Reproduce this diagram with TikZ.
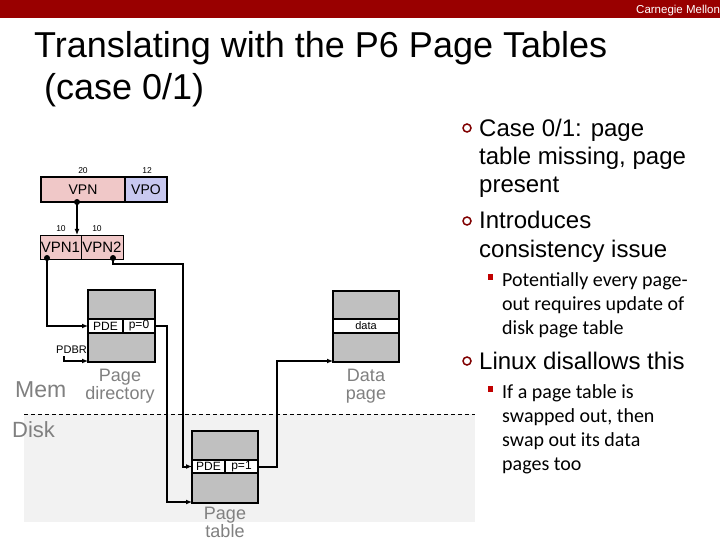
\documentclass[tikz,border=0pt]{standalone}
\usepackage{fontspec}
\setmainfont{Liberation Sans}
\newfontfamily\calib{Carlito}
\usetikzlibrary{arrows.meta}
\definecolor{cmured}{RGB}{153,0,0}
\definecolor{vpnpink}{RGB}{240,200,200}
\definecolor{vpolav}{RGB}{200,200,240}
\definecolor{pagegray}{RGB}{192,192,192}
\definecolor{diskbg}{RGB}{242,242,242}
\definecolor{labgray}{RGB}{128,128,128}
\definecolor{bulred}{RGB}{128,0,0}
\definecolor{subred}{RGB}{192,0,0}
\newcommand{\fs}[2]{\fontsize{#1}{#2}\selectfont}
\begin{document}
\begin{tikzpicture}[x=1pt,y=-1pt,
  field/.style={draw,inner sep=0pt,outer sep=0pt,anchor=north west},
  pagebox/.style={field,fill=pagegray,line width=2pt},
  rowbox/.style={field,fill=white,line width=1.5pt,font=\fs{12}{12}},
  vbox/.style={field,line width=2pt,fill=vpnpink},
  vsub/.style={field,line width=1pt,fill=vpnpink,font=\fs{15}{15}},
  conn/.style={line width=2pt},
  arr/.style={conn,-{Latex[length=6pt,width=5pt]}},
  dotn/.style={circle,fill=black,inner sep=0pt,minimum size=6pt},
  tiny/.style={font=\fs{8.5}{9},anchor=base,inner sep=0pt},
  glab/.style={text=labgray,font=\fs{18}{19},anchor=base,inner sep=0pt},
  big/.style={font=\fs{24}{28},anchor=base west,inner sep=0pt},
  small/.style={font=\calib\fs{20}{24},anchor=base west,inner sep=0pt},
  bul/.style={circle,draw=bulred,line width=1.5pt,minimum size=8pt,inner sep=0pt},
  sbul/.style={fill=subred,minimum width=5pt,minimum height=6pt,inner sep=0pt}
]
\useasboundingbox (0,0) rectangle (720,540);
\fill[white] (0,0) rectangle (720,540);
% header bar
\fill[cmured] (0,0) rectangle (720,18);
\node[text=white,font=\fs{11.5}{11.5},anchor=base west,inner sep=0pt] (cmu) at (636,13.5) {Carnegie Mellon};
% title
\node[font=\fs{36}{44},anchor=base west,inner sep=0pt] (t1) at (34,58) {Translating with the P6 Page Tables};
\node[font=\fs{36}{44},anchor=base west,inner sep=0pt] (t2) at (44,100) {(case 0/1)};

% disk region
\fill[diskbg] (24,414) rectangle (475,522);
\coordinate (dl) at (24,414);
\coordinate (dr) at (475,414);
\draw[dashed,line width=0.8pt,dash pattern=on 4pt off 3pt] (dl) -- (dr);
\node[text=labgray,font=\fs{23}{23},anchor=base west,inner sep=0pt] (mem) at (15,397) {Mem};
\node[text=labgray,font=\fs{22}{22},anchor=base west,inner sep=0pt] (disk) at (12,437) {Disk};

% virtual address
\node[vbox,minimum width=84pt,minimum height=25pt,font=\fs{14}{14}] (vpn) at (41,177) {VPN};
\node[vbox,fill=vpolav,minimum width=42pt,minimum height=25pt,font=\fs{14}{14}] (vpo) at (125,177) {VPO};
\node[tiny] (n20) at (83,174) {20};
\node[tiny] (n12) at (147,174) {12};
\node[vsub,minimum width=41pt,minimum height=24pt] (vpn1) at (40,235) {VPN1};
\node[vsub,minimum width=42pt,minimum height=24pt] (vpn2) at (81,235) {VPN2};
\node[tiny] (n10a) at (61,231) {10};
\node[tiny] (n10b) at (97,231) {10};
\node[dotn] (d0) at (77,202) {};
\node[dotn] (d1) at (47,258) {};
\node[dotn] (d2) at (113,258) {};

% page directory
\node[pagebox,minimum width=67pt,minimum height=72pt] (pd) at (88,290) {};
\node[rowbox,minimum width=35pt,minimum height=14pt] (pde0) at (88,319) {PDE};
\node[rowbox,minimum width=32pt,minimum height=14pt] (p0) at (123,319) {p=0};
\node[glab] (pdl1) at (120,381) {Page};
\node[glab] (pdl2) at (120,399) {directory};
\node[font=\fs{11}{11},anchor=base east,inner sep=0pt] (pdbr) at (87,353) {PDBR};

% data page
\node[pagebox,minimum width=66pt,minimum height=71pt] (dp) at (333,291) {};
\node[rowbox,minimum width=66pt,minimum height=14pt,font=\fs{11}{11}] (drow) at (333,319) {data};
\node[glab] (dpl1) at (366,381) {Data};
\node[glab] (dpl2) at (366,399) {page};

% page table
\node[pagebox,minimum width=66pt,minimum height=72pt] (pt) at (192,431) {};
\node[rowbox,minimum width=33pt,minimum height=13pt] (pde1) at (192,460) {PDE};
\node[rowbox,minimum width=33pt,minimum height=13pt] (p1) at (225,460) {p=1};
\node[glab] (ptl1) at (225,519) {Page};
\node[glab] (ptl2) at (225,537) {table};

% connectors
\draw[arr] (d0.center) -- (d0.center |- vpn1.north);
\draw[arr] (d1.center) |- (pde0.west);
\coordinate (v2a) at (183,264);
\draw[arr] (d2.center) |- (v2a) |- (pde1.west);
\coordinate (p0a) at (167,326);
\draw[arr] (p0.east) -- (p0a) |- ([yshift=1pt]pt.south west);
\coordinate (pdbr0) at (64,356);
\draw[arr] (pdbr0) |- ([yshift=1pt]pd.south west);
\coordinate (p1a) at (277,466.5);
\draw[arr] (p1.east) -- (p1a) |- ([yshift=1pt]dp.south west);

% bullets
\node[bul] (b1) at (467,128) {};
\node[big] (l1) at (479,136.5) {Case 0/1: page};
\node[big] (l2) at (479,165) {table missing, page};
\node[big] (l3) at (479,193) {present};
\node[bul] (b2) at (467,221) {};
\node[big] (l4) at (479,228.5) {Introduces};
\node[big] (l5) at (479,257) {consistency issue};
\node[sbul] (s1) at (490,277) {};
\node[small] (m1) at (502,286) {Potentially every page-};
\node[small] (m2) at (502,310) {out requires update of};
\node[small] (m3) at (502,334) {disk page table};
\node[bul] (b3) at (467,361) {};
\node[big] (l6) at (479,369) {Linux disallows this};
\node[sbul] (s2) at (490,389) {};
\node[small] (m4) at (502,398) {If a page table is};
\node[small] (m5) at (502,422) {swapped out, then};
\node[small] (m6) at (502,446) {swap out its data};
\node[small] (m7) at (502,470) {pages too};
\end{tikzpicture}
\end{document}
